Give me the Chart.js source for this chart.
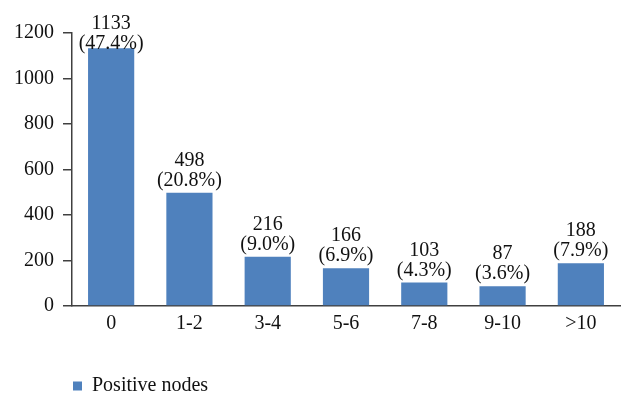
<!DOCTYPE html>
<html>
<head>
<meta charset="utf-8">
<script src="https://cdn.jsdelivr.net/npm/chart.js@4/dist/chart.umd.min.js"></script>
<style>
  html, body { margin: 0; padding: 0; background: #fff; }
  #wrap { width: 636px; height: 406px; }
</style>
</head>
<body>
<div id="wrap"><canvas id="chart"></canvas></div>
<script>
// categories = number of positive nodes
const categories = ['0', '1-2', '3-4', '5-6', '7-8', '9-10', '>10'];
const counts = [1133, 498, 216, 166, 103, 87, 188];
const percents = ['47.4%', '20.8%', '9.0%', '6.9%', '4.3%', '3.6%', '7.9%'];
const yTicks = [0, 200, 400, 600, 800, 1000, 1200];

const FONT = 'Liberation Serif, Times New Roman, serif';
const FONT_SIZE = 20;
const BAR_COLOR = '#4f81bd';
const AXIS_COLOR = '#404040';

// two-line labels above each bar: count / (percent)
const barLabels = {
    id: 'barLabels',
    afterDatasetsDraw(chart) {
        const ctx = chart.ctx;
        const meta = chart.getDatasetMeta(0);
        ctx.save();
        ctx.font = FONT_SIZE + 'px ' + FONT;
        ctx.fillStyle = '#111';
        ctx.textAlign = 'center';
        ctx.textBaseline = 'alphabetic';
        meta.data.forEach((bar, i) => {
            // keep the label block inside the canvas, like the original does for the tall bar
            const bottom = Math.max(bar.y - 7, 49);
            ctx.fillText('(' + percents[i] + ')', bar.x, bottom);
            ctx.fillText(String(counts[i]), bar.x, bottom - 20);
        });
        ctx.restore();
    }
};

// move the legend so it lines up under the y axis
const legendShift = {
    id: 'legendShift',
    afterLayout(chart) {
        chart.legend.left = 63;
    }
};

new Chart(document.getElementById('chart'), {
    type: 'bar',
    data: {
        labels: categories,
        datasets: [{
            label: 'Positive nodes',
            data: counts,
            backgroundColor: BAR_COLOR,
            borderWidth: 0,
            barPercentage: 0.59,
            categoryPercentage: 1.0
        }]
    },
    options: {
        responsive: true,
        maintainAspectRatio: false,
        animation: false,
        layout: {
            padding: { left: 0, right: 16, top: 33, bottom: 0 }
        },
        plugins: {
            tooltip: { enabled: false },
            legend: {
                position: 'bottom',
                align: 'start',
                labels: {
                    boxWidth: 9,
                    boxHeight: 9,
                    padding: 10,
                    color: '#111',
                    font: { family: FONT, size: FONT_SIZE }
                }
            }
        },
        scales: {
            x: {
                grid: { display: false, drawTicks: false },
                border: { display: true, color: AXIS_COLOR, width: 1.5 },
                ticks: {
                    color: '#111',
                    padding: 6,
                    font: { family: FONT, size: FONT_SIZE }
                },
                afterFit: (scale) => { scale.height = 60; }
            },
            y: {
                min: yTicks[0],
                max: yTicks[yTicks.length - 1],
                afterBuildTicks: (scale) => { scale.ticks = yTicks.map(v => ({ value: v })); },
                grid: {
                    drawOnChartArea: false,
                    drawTicks: true,
                    tickLength: 9,
                    color: AXIS_COLOR,
                    lineWidth: 1.5
                },
                border: { display: true, color: AXIS_COLOR, width: 1.5 },
                ticks: {
                    color: '#111',
                    padding: 9,
                    font: { family: FONT, size: FONT_SIZE },
                    callback: (v) => String(v)
                },
                afterFit: (scale) => { scale.width = 72; }
            }
        }
    },
    plugins: [barLabels, legendShift]
});
</script>
</body>
</html>
